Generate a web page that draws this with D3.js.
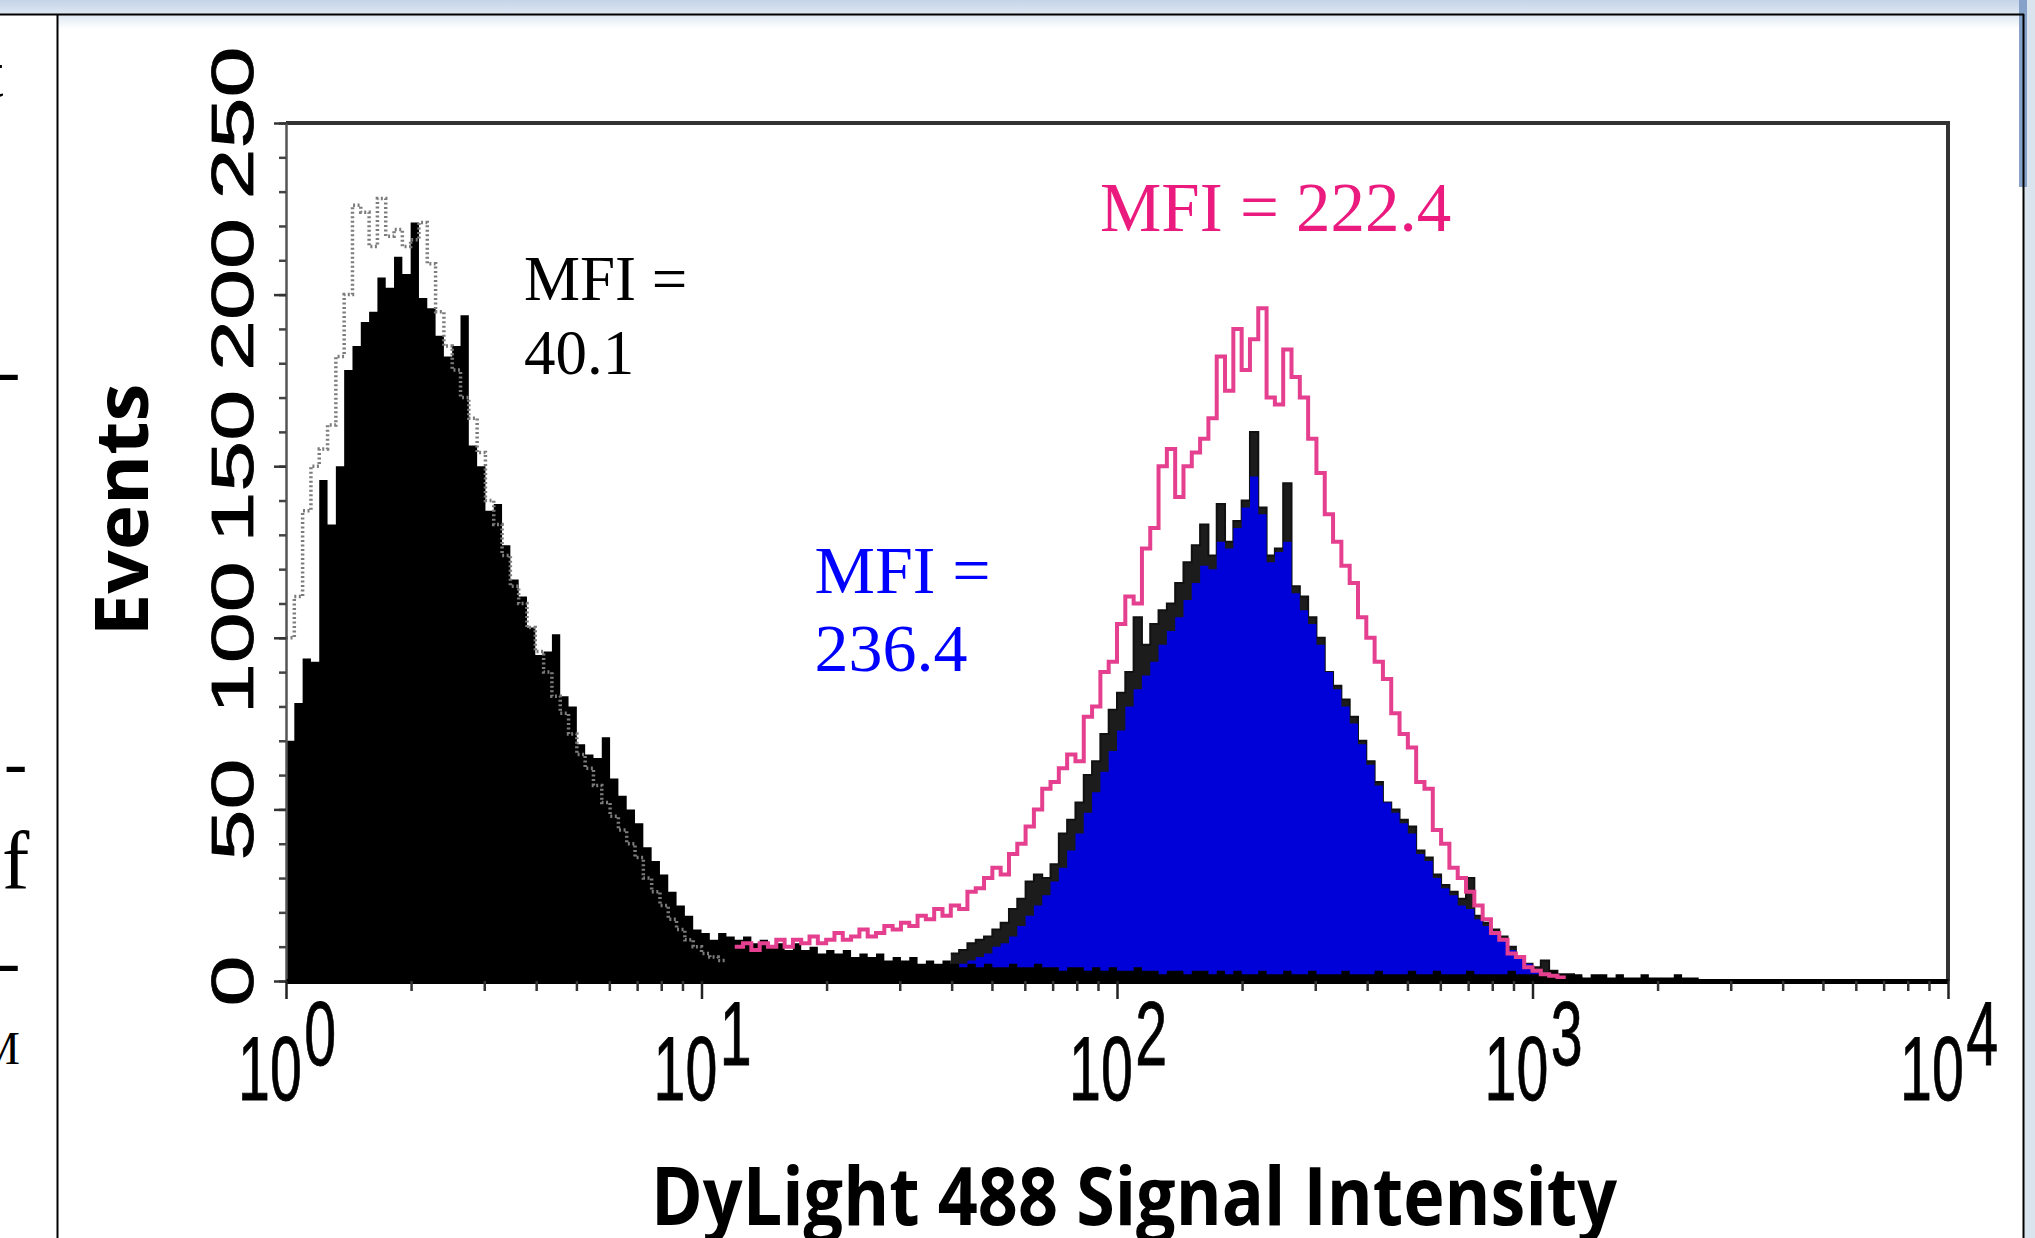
<!DOCTYPE html>
<html lang="en">
<head>
    <meta charset="UTF-8">
    <meta name="viewport" content="width=device-width, initial-scale=1.0">
    <style>
        html, body { margin: 0; padding: 0; background: #fff; overflow: hidden; }
    </style>
</head>
<body>
    <script src="https://d3js.org/d3.v7.min.js"></script>
    <div id="here"></div>

    <script>
        // histogram channels: 50 bins per decade, bin i starts at 10^(i/50)
        const binsPerDecade = 50;

        // unstained control (black filled), starts at bin 0
        const controlStart = 0;
        const controlFill = [
            70, 81, 94, 93, 146, 133, 150, 178, 185, 192,
            195, 205, 202, 211, 206, 221, 199, 196, 188, 182,
            185, 194, 156, 150, 137, 139, 127, 117, 112, 103,
            95, 96, 101, 83, 80, 69, 66, 65, 71, 59,
            54, 50, 46, 39, 35, 31, 26, 22, 19, 15,
            14, 12, 14, 13, 12, 13, 11, 12, 10, 11,
            9, 11, 9, 10, 8, 9, 8, 9, 7, 8,
            7, 8, 6, 7, 6, 7, 5, 6, 5, 6,
            5, 4, 5, 4, 5, 4, 4, 5, 4, 4,
            5, 4, 4, 3, 4, 4, 3, 4, 3, 4,
            3, 3, 4, 3, 3, 2, 3, 3, 2, 3,
            3, 2, 3, 2, 3, 2, 2, 3, 2, 2,
            3, 2, 2, 3, 2, 2, 2, 3, 2, 2,
            2, 3, 2, 2, 2, 3, 2, 2, 3, 2,
            2, 2, 3, 2, 2, 2, 2, 3, 2, 2,
            2, 2, 3, 2, 2, 2, 1, 2, 2, 1,
            2, 1, 1, 2, 1, 1, 1, 2, 1, 1
        ];

        // second control (dotted outline), starts at bin 0
        const dottedStart = 0;
        const controlDotted = [
            100, 112, 137, 150, 155, 162, 182, 200, 226, 224,
            214, 228, 217, 219, 214, 216, 221, 209, 195, 185,
            178, 170, 164, 154, 140, 133, 124, 115, 110, 103,
            96, 90, 83, 78, 72, 66, 62, 57, 52, 48,
            44, 40, 36, 30, 26, 22, 18, 15, 12, 10,
            8, 7, 6
        ];

        // MFI 222.4 sample (pink outline), starts at bin 54
        const pinkStart = 54;
        const pinkLine = [
            10, 11, 9, 11, 10, 12, 10, 12, 11, 13,
            11, 12, 14, 12, 13, 15, 13, 14, 16, 15,
            17, 16, 19, 18, 21, 19, 22, 21, 26, 27,
            30, 33, 31, 37, 40, 45, 50, 56, 58, 62,
            66, 64, 77, 80, 90, 93, 104, 112, 110, 126,
            132, 150, 155, 141, 150, 154, 158, 164, 182, 172,
            190, 178, 187, 196, 170, 168, 184, 176, 170, 158,
            148, 136, 128, 121, 116, 106, 100, 93, 88, 78,
            72, 68, 58, 56, 44, 40, 33, 30, 26, 22,
            18, 14, 12, 8, 7, 4, 3, 2, 1.5, 1
        ];

        // MFI 236.4 sample: blue fill and its black overlay, both start at bin 80
        const blueStart = 80;
        const blueFill = [
            4, 5, 6, 7, 8, 10, 11, 13, 16, 19,
            22, 25, 29, 33, 38, 43, 49, 55, 61, 67,
            73, 80, 85, 89, 93, 98, 102, 106, 111, 116,
            121, 120, 128, 126, 132, 138, 147, 136, 122, 125,
            128, 113, 108, 104, 98, 90, 85, 80, 75, 69,
            63, 57, 52, 49, 46, 43, 37, 35, 30, 27,
            25, 22, 21, 18, 16, 14, 12, 9, 7, 5,
            3, 2
        ];
        const blueOutline = [
            8, 9, 11, 12, 13, 15, 17, 21, 24, 29,
            31, 30, 34, 43, 47, 52, 60, 64, 72, 79,
            84, 90, 106, 98, 104, 108, 110, 116, 122, 127,
            133, 124, 139, 128, 134, 140, 160, 138, 124, 126,
            145, 115, 112, 106, 100, 90, 86, 82, 77, 70,
            64, 58, 52, 50, 47, 45, 38, 36, 31, 28,
            26, 24, 30, 19, 17, 15, 13, 10, 7, 5,
            4, 6, 3, 2, 2, 1
        ];

        const decadeExponents = [0, 1, 2, 3, 4];
        const yTickValues = [0, 50, 100, 150, 200, 250];
        const mfiControl = ["MFI =", "40.1"];
        const mfiBlue = ["MFI =", "236.4"];
        const mfiPink = "MFI = 222.4";
        const xTitle = "DyLight 488 Signal Intensity";
        const yTitle = "Events";
        const sideText = ["t", "-", "-", "f", "-", "M"];

        const W = 2035, H = 1238;
        const plot = { left: 286, right: 1948, top: 123, bottom: 981 };

        const svg = d3.select("#here")
            .append("svg")
                .attr("width", W)
                .attr("height", H)
                .style("display", "block");

        const defs = svg.append("defs");
        const hdr = defs.append("linearGradient").attr("id", "hdr").attr("x1", 0).attr("y1", 0).attr("x2", 0).attr("y2", 1);
        hdr.append("stop").attr("offset", "0%").attr("stop-color", "#c4d4e8");
        hdr.append("stop").attr("offset", "100%").attr("stop-color", "#dde7f2");
        const fade = defs.append("linearGradient").attr("id", "fade").attr("x1", 0).attr("y1", 0).attr("x2", 0).attr("y2", 1);
        fade.append("stop").attr("offset", "0%").attr("stop-color", "#dfe8f3");
        fade.append("stop").attr("offset", "100%").attr("stop-color", "#ffffff");
        defs.append("clipPath").attr("id", "side")
            .append("rect").attr("x", 0).attr("y", 15).attr("width", 56).attr("height", H);
        defs.append("clipPath").attr("id", "plotclip")
            .append("rect").attr("x", plot.left).attr("y", plot.top).attr("width", plot.right - plot.left).attr("height", plot.bottom - plot.top + 2);

        // window chrome around the figure
        svg.append("rect").attr("x", 0).attr("y", 0).attr("width", W).attr("height", 14).attr("fill", "url(#hdr)");
        svg.append("rect").attr("x", 58).attr("y", 15).attr("width", 1965).attr("height", 14).attr("fill", "url(#fade)");
        svg.append("rect").attr("x", 2024).attr("y", 0).attr("width", 11).attr("height", H).attr("fill", "#dae4ef");
        svg.append("rect").attr("x", 2019).attr("y", 0).attr("width", 8).attr("height", 187).attr("fill", "#86a2c8");
        svg.append("line").attr("x1", 0).attr("x2", 2024).attr("y1", 14.5).attr("y2", 14.5).attr("stroke", "#000").attr("stroke-width", 2);
        svg.append("line").attr("x1", 2023.5).attr("x2", 2023.5).attr("y1", 14).attr("y2", H).attr("stroke", "#000").attr("stroke-width", 2);
        svg.append("line").attr("x1", 57.5).attr("x2", 57.5).attr("y1", 14).attr("y2", H).attr("stroke", "#000").attr("stroke-width", 2);

        // cut-off text of the neighbouring column
        const side = svg.append("g").attr("clip-path", "url(#side)")
            .attr("font-family", "'Liberation Serif', 'Times New Roman', serif")
            .attr("fill", "#000");
        const sidePos = [[-16, 97, 70], [-3, 394, 70], [4, 786, 70], [2, 889, 82], [-3, 985, 70], [-21, 1064, 46]];
        side.selectAll("text").data(sideText).join("text")
            .attr("x", (d, i) => sidePos[i][0])
            .attr("y", (d, i) => sidePos[i][1])
            .attr("font-size", (d, i) => sidePos[i][2])
            .text(d => d);

        // scales
        const x = d3.scaleLog().domain([1, 1e4]).range([plot.left, plot.right]);
        const y = d3.scaleLinear().domain([0, 250]).range([plot.bottom, plot.top]);

        const binEdge = i => Math.pow(10, i / binsPerDecade);
        const toPoints = (start, counts) => {
            const pts = counts.map((c, k) => [binEdge(start + k), c]);
            pts.push([binEdge(start + counts.length), counts[counts.length - 1]]);
            return pts;
        };
        const area = d3.area().curve(d3.curveStepAfter)
            .x(d => x(d[0])).y0(y(0)).y1(d => y(d[1]));
        const line = d3.line().curve(d3.curveStepAfter)
            .x(d => x(d[0])).y(d => y(d[1]));

        const data = svg.append("g").attr("clip-path", "url(#plotclip)");

        // black overlay of the blue sample sits behind the blue fill
        data.append("path")
            .attr("d", area(toPoints(blueStart, blueOutline)))
            .attr("fill", "#1c1c1c");
        data.append("path")
            .attr("d", line(toPoints(blueStart, blueOutline)))
            .attr("fill", "none").attr("stroke", "#111").attr("stroke-width", 2);
        data.append("path")
            .attr("d", area(toPoints(blueStart, blueFill)))
            .attr("fill", "#0000d8");
        data.append("path")
            .attr("d", area(toPoints(controlStart, controlFill)))
            .attr("fill", "#000");
        data.append("path")
            .attr("d", line(toPoints(dottedStart, controlDotted)))
            .attr("fill", "none").attr("stroke", "#7c7c7c").attr("stroke-width", 3.5)
            .attr("stroke-dasharray", "2 2.5");
        data.append("path")
            .attr("d", line(toPoints(pinkStart, pinkLine)))
            .attr("fill", "none").attr("stroke", "#e4408f").attr("stroke-width", 4);

        // frame top and right
        svg.append("path")
            .attr("d", `M${plot.left},${plot.top}H${plot.right}V${plot.bottom}`)
            .attr("fill", "none").attr("stroke", "#333").attr("stroke-width", 4);

        // y axis: minor every 10, major every 50
        const yMinor = svg.append("g").attr("transform", `translate(${plot.left},0)`)
            .call(d3.axisLeft(y).tickValues(d3.range(0, 251, 10)).tickSize(7).tickSizeOuter(0).tickFormat(""));
        yMinor.select(".domain").attr("stroke", "#555").attr("stroke-width", 2.5);
        yMinor.selectAll(".tick line").attr("stroke", "#444").attr("stroke-width", 2.5);
        const yMajor = svg.append("g").attr("transform", `translate(${plot.left},0)`)
            .call(d3.axisLeft(y).tickValues(yTickValues).tickSize(12).tickSizeOuter(0).tickFormat(""));
        yMajor.select(".domain").remove();
        yMajor.selectAll(".tick line").attr("stroke", "#333").attr("stroke-width", 2.5);

        // x axis: log decades with 2..9 minor ticks
        const minorX = [];
        decadeExponents.slice(0, -1).forEach(e => d3.range(2, 10).forEach(m => minorX.push(m * Math.pow(10, e))));
        const xMinor = svg.append("g").attr("transform", `translate(0,${plot.bottom})`)
            .call(d3.axisBottom(x).tickValues(minorX).tickSize(10).tickSizeOuter(0).tickFormat(""));
        xMinor.select(".domain").attr("stroke", "#000").attr("stroke-width", 5);
        xMinor.selectAll(".tick line").attr("stroke", "#333").attr("stroke-width", 2.5);
        const xMajor = svg.append("g").attr("transform", `translate(0,${plot.bottom})`)
            .call(d3.axisBottom(x).tickValues(decadeExponents.map(e => Math.pow(10, e))).tickSize(18).tickSizeOuter(0).tickFormat(""));
        xMajor.select(".domain").remove();
        xMajor.selectAll(".tick line").attr("stroke", "#222").attr("stroke-width", 2.5);

        const sans = "'Liberation Sans', Arial, Helvetica, sans-serif";

        // x tick labels 10^n: one text each, squeezed horizontally like the source
        const squeeze = 0.63;
        const xl = svg.append("g").attr("font-family", sans).attr("fill", "#000")
            .attr("stroke", "#000").attr("stroke-width", 0.8);
        const xt = xl.selectAll("text").data(decadeExponents).join("text")
            .attr("transform", e => `translate(${x(Math.pow(10, e)) - 48},1100) scale(${squeeze},1)`)
            .attr("font-size", 91);
        xt.append("tspan").text("10");
        xt.append("tspan").attr("dx", 4).attr("dy", -35).text(e => e);

        // y tick labels, rotated
        svg.append("g").attr("font-family", sans).attr("fill", "#000")
            .attr("stroke", "#000").attr("stroke-width", 0.8)
            .selectAll("text").data(yTickValues).join("text")
            .attr("transform", v => `translate(253,${y(v)}) rotate(-90)`)
            .attr("text-anchor", "middle")
            .attr("font-size", 59)
            .attr("textLength", v => String(v).length * 51)
            .attr("lengthAdjust", "spacingAndGlyphs")
            .text(v => v);

        // axis titles
        const bold = "'Open Sans', 'Noto Sans', sans-serif";
        svg.append("text")
            .attr("transform", "translate(148,510) rotate(-90)")
            .attr("text-anchor", "middle")
            .attr("font-family", bold).attr("font-weight", 700)
            .attr("font-size", 73)
            .attr("textLength", 253).attr("lengthAdjust", "spacingAndGlyphs")
            .text(yTitle);
        svg.append("text")
            .attr("x", 651).attr("y", 1225)
            .attr("font-family", bold).attr("font-weight", 700)
            .attr("font-size", 80)
            .attr("textLength", 966).attr("lengthAdjust", "spacingAndGlyphs")
            .text(xTitle);

        // MFI annotations, anchored in data space
        const serif = "'Liberation Serif', 'Times New Roman', serif";
        const note = (lines, xv, yv, lineGap, size, color) => {
            const t = svg.append("text")
                .attr("font-family", serif).attr("font-size", size).attr("fill", color)
                .attr("x", x(xv)).attr("y", y(yv));
            lines.forEach((s, i) => t.append("tspan").attr("x", x(xv)).attr("dy", i === 0 ? 0 : lineGap).text(s));
        };
        note(mfiControl, 3.74, 198.4, 74, 63, "#000");
        note(mfiBlue, 18.7, 113, 78, 68, "#0000ff");
        note([mfiPink], 91, 218.5, 0, 69, "#ea1a7f");
    </script>
</body>
</html>
